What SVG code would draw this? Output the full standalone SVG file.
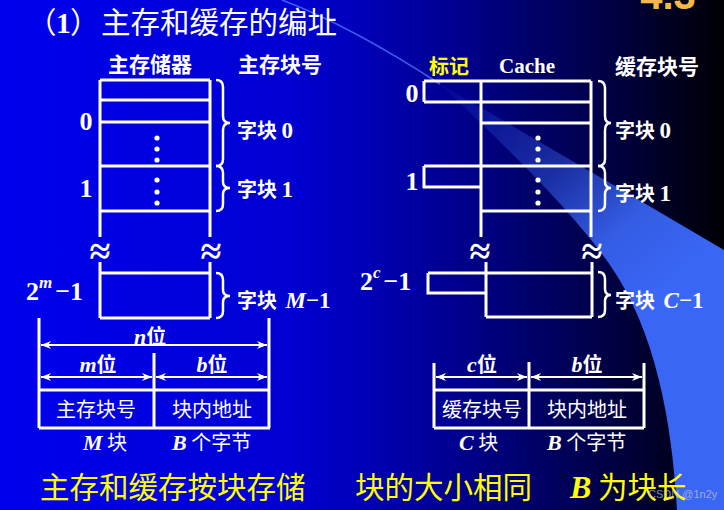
<svg xmlns="http://www.w3.org/2000/svg" width="724" height="510" viewBox="0 0 724 510">
<defs>
<linearGradient id="bg" x1="0" y1="0" x2="724" y2="0" gradientUnits="userSpaceOnUse">
<stop offset="0" stop-color="#0000ee"/>
<stop offset="0.4" stop-color="#0000d2"/>
<stop offset="0.5" stop-color="#0000b8"/>
<stop offset="0.65" stop-color="#000088"/>
<stop offset="0.83" stop-color="#000048"/>
<stop offset="1" stop-color="#000005"/>
</linearGradient>
<linearGradient id="sw" x1="450" y1="90" x2="650" y2="300" gradientUnits="userSpaceOnUse">
<stop offset="0" stop-color="#3a66f6" stop-opacity="0.08"/>
<stop offset="0.45" stop-color="#3a66f6" stop-opacity="0.45"/>
<stop offset="0.75" stop-color="#3a66f6" stop-opacity="0.9"/>
<stop offset="1" stop-color="#3a66f6" stop-opacity="1"/>
</linearGradient>
<marker id="ah" viewBox="0 0 10 8" refX="10" refY="4" markerWidth="10" markerHeight="8" markerUnits="userSpaceOnUse" orient="auto-start-reverse">
<path d="M0,0 L10,4 L0,8 L3,4 z" fill="#fff"/>
</marker>
<style>
.w{fill:#fff}
.y{fill:#ffff00}
.cjk{font-family:"Noto Sans CJK SC","Noto Sans CJK JP",sans-serif}
.b{font-weight:bold}
.num{font-family:"Liberation Serif",serif;font-weight:bold}
.it{font-style:italic}
.ln{stroke:#fff;stroke-width:3;fill:none}
.br{stroke:#fff;stroke-width:2.5;fill:none}
.ar{stroke:#fff;stroke-width:2;fill:none;marker-start:url(#ah);marker-end:url(#ah)}
.dot{fill:#fff}
.apx{font-family:"Liberation Serif",serif;font-weight:bold;font-size:38px;fill:#fff;text-anchor:middle}
</style>
</defs>
<rect width="724" height="510" fill="url(#bg)"/>
<g id="swoosh">
<path d="M282,0 C330,18 380,45 440,84" stroke="#4a78ff" stroke-width="1.5" fill="none" opacity="0.8"/>
<path d="M440,84 Q580,165 724,250 L724,510 L677,510 C672,420 655,330 610,265 C575,215 520,160 440,84 Z" fill="url(#sw)"/>
</g>
<text x="668" y="9" font-family="Liberation Sans,sans-serif" font-weight="bold" font-size="40" fill="#f5b945" text-anchor="middle">4.3</text>

<g id="title">
<text class="cjk w" font-size="29.5" y="33"><tspan x="27">（</tspan><tspan class="num" x="56">1</tspan><tspan x="70">）</tspan><tspan x="101">主存和缓存的编址</tspan></text>
</g>

<g id="main-memory">
<text class="cjk w b" font-size="21" x="150" y="72" text-anchor="middle">主存储器</text>
<text class="cjk w b" font-size="21" x="280" y="72" text-anchor="middle">主存块号</text>
<path class="ln" d="M100,80 H210 M100,80 V237 M210,80 V237 M100,100 H210 M100,122 H210 M100,166 H210 M100,211 H210 M100,262 V318 M210,262 V318 M100,273 H210 M100,318 H210"/>
<circle class="dot" cx="157" cy="138" r="2.6"/><circle class="dot" cx="157" cy="149" r="2.6"/><circle class="dot" cx="157" cy="160" r="2.6"/>
<circle class="dot" cx="157" cy="180" r="2.6"/><circle class="dot" cx="157" cy="192" r="2.6"/><circle class="dot" cx="157" cy="203" r="2.6"/>
<text class="apx" x="100" y="264">≈</text>
<text class="apx" x="211" y="264">≈</text>
<text class="num w" font-size="26" x="86" y="130" text-anchor="middle">0</text>
<text class="num w" font-size="26" x="86" y="197" text-anchor="middle">1</text>
<text class="num w" font-size="26" x="26" y="300">2<tspan class="it" font-size="17" dy="-12">m</tspan><tspan dy="12" dx="3">−1</tspan></text>
<path class="br" d="M216,80 Q223,80 223,87 V116 Q223,123 230,123 Q223,123 223,130 V159 Q223,166 216,166"/>
<path class="br" d="M216,166 Q223,166 223,173 V182 Q223,188 230,188 Q223,188 223,194 V204 Q223,211 216,211"/>
<path class="br" d="M216,273 Q223,273 223,280 V290 Q223,296 230,296 Q223,296 223,302 V311 Q223,318 216,318"/>
<text class="cjk w b" font-size="20" x="237" y="138">字块 <tspan class="num" font-size="23">0</tspan></text>
<text class="cjk w b" font-size="20" x="237" y="197">字块 <tspan class="num" font-size="23">1</tspan></text>
<text class="cjk w b" font-size="20" x="237" y="308">字块 <tspan class="num it" font-size="23" dx="4">M</tspan><tspan class="num" font-size="23">−1</tspan></text>
</g>

<g id="cache">
<text class="cjk y b" font-size="20" x="449" y="74" text-anchor="middle">标记</text>
<text class="num w" font-size="21" x="527" y="73" text-anchor="middle">Cache</text>
<text class="cjk w b" font-size="21" x="657" y="74" text-anchor="middle">缓存块号</text>
<path class="ln" d="M424,81 H591 M424,81 V102 M424,102 H591 M481,81 V237 M591,81 V237 M481,123 H591 M424,166 H591 M481,211 H591 M424,166 V187 H481 M486,262 V317 M592,262 V317 M428,273 H592 M428,273 V293 H486 M486,317 H592"/>
<circle class="dot" cx="538" cy="138" r="2.6"/><circle class="dot" cx="538" cy="149" r="2.6"/><circle class="dot" cx="538" cy="160" r="2.6"/>
<circle class="dot" cx="538" cy="180" r="2.6"/><circle class="dot" cx="538" cy="192" r="2.6"/><circle class="dot" cx="538" cy="203" r="2.6"/>
<text class="apx" x="480" y="264">≈</text>
<text class="apx" x="592" y="264">≈</text>
<text class="num w" font-size="26" x="412" y="102" text-anchor="middle">0</text>
<text class="num w" font-size="26" x="412" y="190" text-anchor="middle">1</text>
<text class="num w" font-size="26" x="360" y="290">2<tspan class="it" font-size="17" dy="-12">c</tspan><tspan dy="12" dx="3">−1</tspan></text>
<path class="br" d="M598,81 Q605,81 605,88 V116 Q605,123 611,123 Q605,123 605,130 V159 Q605,166 598,166"/>
<path class="br" d="M598,166 Q605,166 605,173 V182 Q605,188 611,188 Q605,188 605,194 V204 Q605,211 598,211"/>
<path class="br" d="M598,272 Q605,272 605,279 V289 Q605,295 611,295 Q605,295 605,301 V310 Q605,317 598,317"/>
<text class="cjk w b" font-size="20" x="615" y="138">字块 <tspan class="num" font-size="23">0</tspan></text>
<text class="cjk w b" font-size="20" x="615" y="201">字块 <tspan class="num" font-size="23">1</tspan></text>
<text class="cjk w b" font-size="20" x="615" y="308">字块 <tspan class="num it" font-size="23" dx="4">C</tspan><tspan class="num" font-size="23">−1</tspan></text>
</g>

<g id="mm-address">
<path class="ln" d="M39,318 V428 M269,318 V428 M154,353 V428 M39,390 H270 M39,428 H270"/>
<text class="cjk w b" font-size="20" x="150" y="344" text-anchor="middle"><tspan class="num it" font-size="22">n</tspan>位</text>
<text class="cjk w b" font-size="20" x="98" y="372" text-anchor="middle"><tspan class="num it" font-size="22">m</tspan>位</text>
<text class="cjk w b" font-size="20" x="212" y="372" text-anchor="middle"><tspan class="num it" font-size="22">b</tspan>位</text>
<text class="cjk w" font-size="20" x="96" y="417" text-anchor="middle">主存块号</text>
<text class="cjk w" font-size="20" x="212" y="417" text-anchor="middle">块内地址</text>
<text class="cjk w" font-size="20" x="83" y="450"><tspan class="num it" font-size="22">M</tspan> 块</text>
<text class="cjk w" font-size="20" x="172" y="450"><tspan class="num it" font-size="22">B</tspan> 个字节</text>
</g>

<g id="cache-address">
<path class="ln" d="M434,363 V428 M644,363 V428 M529,362 V428 M434,390 H644 M434,428 H644"/>
<text class="cjk w b" font-size="20" x="482" y="372" text-anchor="middle"><tspan class="num it" font-size="22">c</tspan>位</text>
<text class="cjk w b" font-size="20" x="587" y="372" text-anchor="middle"><tspan class="num it" font-size="22">b</tspan>位</text>
<text class="cjk w" font-size="20" x="482" y="417" text-anchor="middle">缓存块号</text>
<text class="cjk w" font-size="20" x="587" y="417" text-anchor="middle">块内地址</text>
<text class="cjk w" font-size="20" x="459" y="450"><tspan class="num it" font-size="22">C</tspan> 块</text>
<text class="cjk w" font-size="20" x="547" y="450"><tspan class="num it" font-size="22">B</tspan> 个字节</text>
</g>

<g id="connectors">
<path class="ar" d="M41,345 H267"/>
<path class="ar" d="M41,377 H152"/>
<path class="ar" d="M156,377 H267"/>
<path class="ar" d="M436,377 H527"/>
<path class="ar" d="M531,377 H642"/>
</g>

<g id="footer">
<text class="cjk y" font-size="29.5" x="40" y="498">主存和缓存按块存储</text>
<text class="cjk y" font-size="29.5" x="355" y="498">块的大小相同</text>
<text class="cjk y" font-size="29.5" x="570" y="498"><tspan class="num it" font-size="32">B</tspan> 为块长</text>
<text font-family="Liberation Sans,sans-serif" font-size="11" x="648" y="498" fill="#c8c8c8" opacity="0.7">CSDN @1n2y</text>
</g>
</svg>
